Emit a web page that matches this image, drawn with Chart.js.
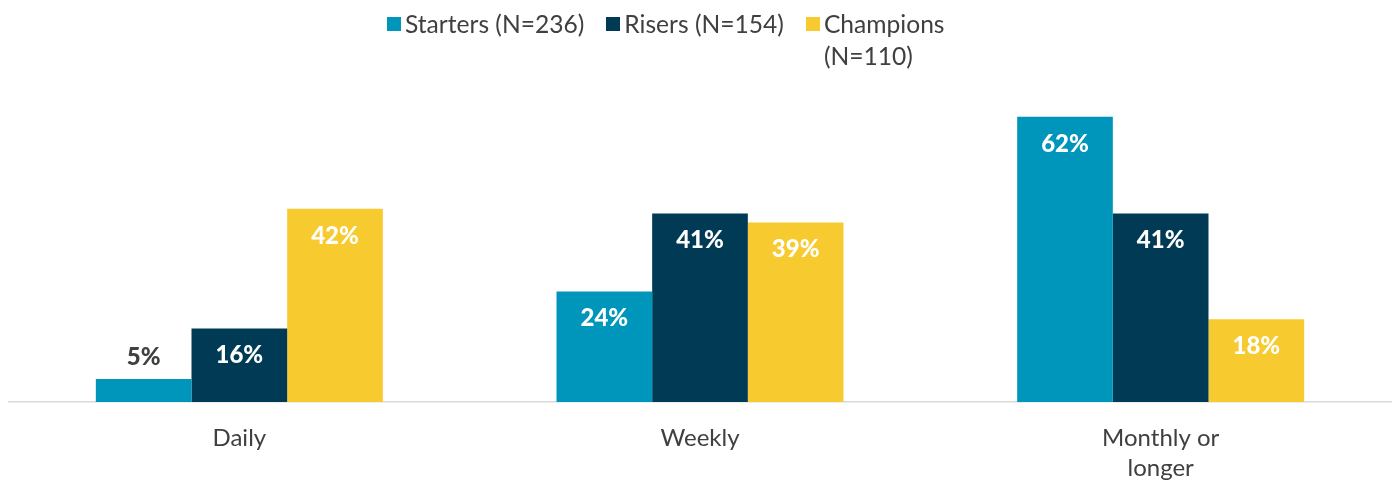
<!DOCTYPE html>
<html>
<head>
<meta charset="utf-8">
<script src="https://cdn.jsdelivr.net/npm/chart.js@4/dist/chart.umd.min.js"></script>
<style>
  html, body { margin: 0; padding: 0; background: #fff; }
  #wrap { position: relative; width: 1392px; height: 481px; }
  #legend { position: absolute; left: 387px; top: 8px; display: flex; align-items: flex-start;
            font-family: Lato, sans-serif; font-size: 24.6px; color: #404040; line-height: 32px; }
  .item { display: flex; align-items: flex-start; margin-right: 22px; }
  .sw { width: 14px; height: 14px; margin-top: 9px; margin-right: 4px; flex: none; }
  .item span.t { display: inline-block; }
</style>
</head>
<body>
<div id="wrap">
  <canvas id="c" width="1392" height="481"></canvas>
  <div id="legend"></div>
</div>
<script>
const categories = [["Daily"], ["Weekly"], ["Monthly or", "longer"]];
const seriesNames = ["Starters (N=236)", "Risers (N=154)", "Champions (N=110)"];
const starters = [5, 24, 62];
const risers = [16, 41, 41];
const champions = [42, 39, 18];
const colors = ["#0096BC", "#003A54", "#F7CA30"];

const legendEl = document.getElementById('legend');
seriesNames.forEach((n, i) => {
  const it = document.createElement('div');
  it.className = 'item';
  const sw = document.createElement('div');
  sw.className = 'sw'; sw.style.background = colors[i];
  const t = document.createElement('span');
  t.className = 't';
  if (i === 2) { t.style.width = '135px'; }
  t.textContent = n;
  it.appendChild(sw); it.appendChild(t);
  legendEl.appendChild(it);
});

const labelPlugin = {
  id: 'valueLabels',
  afterDatasetsDraw(chart) {
    const ctx = chart.ctx;
    ctx.save();
    ctx.font = '900 24px Lato, sans-serif';
    ctx.textAlign = 'center';
    ctx.textBaseline = 'middle';
    chart.data.datasets.forEach((ds, di) => {
      const meta = chart.getDatasetMeta(di);
      meta.data.forEach((bar, i) => {
        const v = ds.data[i];
        const txt = v + '%';
        if (v < 10) {
          ctx.fillStyle = '#404040';
          ctx.fillText(txt, bar.x, bar.y - 22);
        } else {
          ctx.fillStyle = '#ffffff';
          ctx.fillText(txt, bar.x, bar.y + 27);
        }
      });
    });
    ctx.restore();
  }
};

new Chart(document.getElementById('c'), {
  type: 'bar',
  data: {
    labels: categories,
    datasets: [
      { label: seriesNames[0], data: starters, backgroundColor: colors[0] },
      { label: seriesNames[1], data: risers, backgroundColor: colors[1] },
      { label: seriesNames[2], data: champions, backgroundColor: colors[2] }
    ]
  },
  options: {
    responsive: false,
    animation: false,
    events: [],
    layout: { padding: { left: 9, right: 1, top: 80, bottom: 0 } },
    datasets: { bar: { barPercentage: 1, categoryPercentage: 0.623, borderWidth: 0 } },
    plugins: { legend: { display: false }, tooltip: { enabled: false } },
    scales: {
      x: {
        grid: { display: false, drawTicks: false },
        border: { display: true, color: '#D9D9D9', width: 1.5 },
        ticks: { color: '#404040', font: { family: 'Lato, sans-serif', size: 24, lineHeight: '30px' }, padding: 21, maxRotation: 0, autoSkip: false },
        afterFit: s => { s.height = 79; }
      },
      y: { display: false, min: 0, max: 70 }
    }
  },
  plugins: [labelPlugin]
});
</script>
</body>
</html>
